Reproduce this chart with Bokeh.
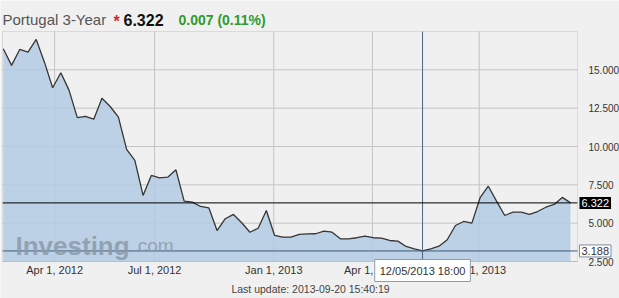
from bokeh.plotting import figure
from bokeh.models import Range1d, FixedTicker, NumeralTickFormatter, Label, ColumnDataSource, BoxAnnotation
from bokeh.embed import file_html
from bokeh.resources import INLINE

# ---- data ----
yields = [16.38, 15.29, 16.33, 16.15, 16.98, 15.50, 13.83, 14.81, 13.66, 11.88,
          11.96, 11.78, 13.15, 12.61, 11.91, 9.81, 9.09, 6.81, 8.11, 7.96,
          8.00, 8.48, 6.44, 6.37, 6.09, 6.00, 4.52, 5.29, 5.57, 5.03,
          4.41, 4.67, 5.83, 4.20, 4.09, 4.09, 4.27, 4.30, 4.31, 4.48,
          4.41, 3.98, 3.98, 4.05, 4.15, 4.05, 4.02, 3.87, 3.83, 3.48,
          3.33, 3.188, 3.33, 3.50, 3.92, 4.85, 5.11, 5.00, 6.66, 7.41,
          6.44, 5.50, 5.72, 5.72, 5.57, 5.76, 6.04, 6.22, 6.68, 6.322]
x_tick_pos = [6.24, 18.4, 32.9, 44.9, 57.9]
x_tick_labels = ["Apr 1, 2012", "Jul 1, 2012", "Jan 1, 2013", "Apr 1, 2013", "Jul 1, 2013"]
y_ticks = [2.5, 5, 7.5, 10, 12.5, 15]
title_name = "Portugal 3-Year"
change_text = "0.007 (0.11%)"
crosshair_text = "12/05/2013 18:00"
update_text = "Last update: 2013-09-20 15:40:19"

idx = list(range(len(yields)))
last_val = yields[-1]
min_val = min(yields)
cross_idx = yields.index(min_val)

# ---- layout: plot area inside a full-canvas frame ----
W, H = 619, 298
x_lo, x_hi = -0.1, 69.85          # data extent of the chart area
y_lo, y_hi = 2.5, 17.5
PL, PR, PT, PB = 2, 577, 31, 261  # chart area in canvas pixels
kx = (PR - PL) / (x_hi - x_lo)
ky = (PB - PT) / (y_hi - y_lo)
x_range = Range1d(x_lo - PL / kx, x_hi + (W - PR) / kx)
y_range = Range1d(y_lo - (H - PB) / ky, y_hi + PT / ky)

src = ColumnDataSource(dict(x=idx, y=yields, base=[y_lo] * len(yields)))

FONT = "Liberation Sans"
BG = "#f0f0f0"

p = figure(width=W, height=H, output_backend="svg", toolbar_location=None,
           x_range=x_range, y_range=y_range, y_axis_location="right",
           min_border_left=0, min_border_right=0, min_border_top=0, min_border_bottom=0)
p.title.visible = False
p.background_fill_color = BG
p.border_fill_color = BG
p.outline_line_color = None
p.xgrid.visible = False
p.ygrid.visible = False

# grid lines limited to the chart area
p.segment(x0=[x_lo] * len(y_ticks), x1=[x_hi] * len(y_ticks), y0=y_ticks, y1=y_ticks,
          line_color="#c4c4c4", line_width=1)
p.segment(x0=x_tick_pos, x1=x_tick_pos, y0=[y_lo] * len(x_tick_pos), y1=[y_hi] * len(x_tick_pos),
          line_color="#c4c4c4", line_width=1)

# area + line
p.varea(x="x", y1="base", y2="y", source=src, fill_color="#b4cce2", fill_alpha=0.88)
p.line(x="x", y="y", source=src, line_color="#353535", line_width=1.3)

# reference lines
p.segment(x0=[cross_idx], x1=[cross_idx], y0=[y_lo], y1=[y_hi], line_color="#4b6580", line_width=1)
p.segment(x0=[x_lo], x1=[x_hi], y0=[min_val], y1=[min_val], line_color="#3e5a76", line_width=1)
p.segment(x0=[x_lo], x1=[x_hi], y0=[last_val], y1=[last_val], line_color="black", line_width=1)

# chart-area border
p.add_layout(BoxAnnotation(left=x_lo, right=x_hi, bottom=y_lo, top=y_hi,
                           fill_color=None, line_color="#a8a8a8", line_width=1))

# axes fixed at the chart-area edges
xt = FixedTicker(ticks=x_tick_pos)
p.xaxis.ticker = xt
p.xaxis.fixed_location = y_lo
p.xaxis.major_label_overrides = {t: l for t, l in zip(x_tick_pos, x_tick_labels)}
yt = FixedTicker(ticks=y_ticks)
p.yaxis.ticker = yt
p.yaxis.fixed_location = x_hi
p.yaxis.formatter = NumeralTickFormatter(format="0.000")
for ax in (p.xaxis, p.yaxis):
    ax.axis_line_color = None
    ax.major_tick_line_color = None
    ax.minor_tick_line_color = None
    ax.major_label_text_font = FONT
    ax.major_label_text_color = "#333333"
p.xaxis.major_label_text_font_size = "11px"
p.xaxis.major_label_standoff = -4
p.yaxis.major_label_text_font_size = "10px"
p.yaxis.major_label_standoff = 5

# watermark
p.add_layout(Label(x=15, y=H - 245, x_units="screen", y_units="screen", text="Investing",
                   text_font=FONT, text_font_style="bold", text_font_size="26px",
                   text_baseline="alphabetic", text_color="#8a9aa9", text_alpha=0.85))
p.add_layout(Label(x=132, y=H - 245, x_units="screen", y_units="screen", text=".com",
                   text_font=FONT, text_font_size="19px", text_baseline="alphabetic",
                   text_color="#8a9aa9", text_alpha=0.85))

# price boxes on the right axis
p.add_layout(Label(x=579, y=last_val, x_units="screen", y_units="data", text=f"{last_val:.3f}",
                   text_font=FONT, text_font_size="11px", text_color="white",
                   text_baseline="middle", background_fill_color="black", padding=2))
p.add_layout(Label(x=579, y=min_val, x_units="screen", y_units="data", text=f"{min_val:.3f}",
                   text_font=FONT, text_font_size="11px", text_color="#333333",
                   text_baseline="middle", background_fill_color="white",
                   border_line_color="#7d8d9c", padding=2))

# crosshair tooltip
p.add_layout(Label(x=cross_idx, y=H - 270, x_units="data", y_units="screen", text=crosshair_text,
                   text_font=FONT, text_font_size="11px", text_color="#333333",
                   text_align="center", text_baseline="middle",
                   background_fill_color="white", border_line_color="#8c9cab", padding=5))

# header
p.add_layout(Label(x=2, y=H - 19, x_units="screen", y_units="screen", text=title_name,
                   text_font=FONT, text_font_size="15px", text_color="#555555",
                   text_baseline="alphabetic"))
p.add_layout(Label(x=113, y=H - 21, x_units="screen", y_units="screen", text="*",
                   text_font=FONT, text_font_size="16px", text_font_style="bold",
                   text_color="#d42a2a", text_baseline="alphabetic"))
p.add_layout(Label(x=123, y=H - 19, x_units="screen", y_units="screen", text=f"{last_val:.3f}",
                   text_font=FONT, text_font_size="16px", text_font_style="bold",
                   text_color="#111111", text_baseline="alphabetic"))
p.add_layout(Label(x=178, y=H - 19, x_units="screen", y_units="screen", text=change_text,
                   text_font=FONT, text_font_size="14px", text_font_style="bold",
                   text_color="#2f9a2f", text_baseline="alphabetic"))

# footer
p.add_layout(Label(x=310, y=H - 288, x_units="screen", y_units="screen", text=update_text,
                   text_font=FONT, text_font_size="10.5px", text_color="#444444",
                   text_align="center", text_baseline="middle"))

open("out.html", "w").write(file_html(p, INLINE))
